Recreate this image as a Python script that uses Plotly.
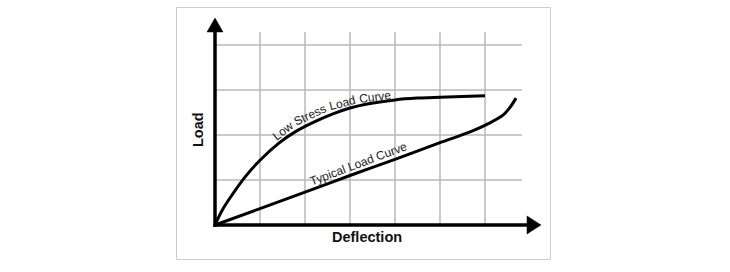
import plotly.graph_objects as go

# ---- data (arbitrary units: 1 = one grid cell) ----
low_x = [0, 0.16, 0.38, 0.67, 1.0, 1.42, 1.78, 2.16, 2.62, 3.0, 3.38, 4.0, 4.49, 5.0, 6.0]
low_y = [0, 0.33, 0.67, 1.07, 1.44, 1.82, 2.07, 2.27, 2.47, 2.60, 2.69, 2.78, 2.82, 2.84, 2.87]

typ_x = [0, 1, 2, 3, 4, 5, 5.67, 6.11, 6.4, 6.56, 6.69]
typ_y = [0, 0.365, 0.73, 1.10, 1.46, 1.83, 2.07, 2.27, 2.44, 2.62, 2.82]

grid_x = [1, 2, 3, 4, 5, 6]
grid_y = [1, 2, 3, 4]
grid_x_end = 6.82
grid_y_end = 4.29

x_label = "Deflection"
y_label = "Load"
low_label_words = ["Low", "Stress", "Load", "Curve"]
typ_label = "Typical Load Curve"

# ---- figure geometry: 45 px per unit, origin at pixel (215, 225) ----
PX = 45.0
OX, OY = 215.0, 225.0
W, H = 730, 272
def dx(px):
    return (px - OX) / PX
def dy(py):
    return (OY - py) / PX

# label placement (pixel centres and angles)
low_label_pos = [(dx(283), dy(131), -38), (dx(310), dy(115), -25),
                 (dx(342.5), dy(103), -15), (dx(375), dy(96.5), -7)]

fig = go.Figure()

shapes = []
gcol = "#b9b9b9"
for gx in grid_x:
    shapes.append(dict(type="line", x0=gx, x1=gx, y0=0, y1=grid_y_end,
                       line=dict(color=gcol, width=1.5), layer="below"))
for gy in grid_y:
    shapes.append(dict(type="line", x0=0, x1=grid_x_end, y0=gy, y1=gy,
                       line=dict(color=gcol, width=1.5), layer="below"))

# outer frame
shapes.append(dict(type="rect", x0=dx(176.5), x1=dx(550.5), y0=dy(259.5), y1=dy(7.5),
                   line=dict(color="#cccccc", width=1), layer="below"))

# axes lines
y_tip, y_base, y_half = dy(18), dy(32), 8 / PX
x_tip, x_base, x_half = dx(541), dx(527), 9 / PX
shapes.append(dict(type="line", x0=0, x1=0, y0=dy(227), y1=y_base + 0.05,
                   line=dict(color="black", width=3.5)))
shapes.append(dict(type="line", x0=dx(213.5), x1=x_base + 0.05, y0=0, y1=0,
                   line=dict(color="black", width=3.5)))
shapes.append(dict(type="path",
                   path=f"M {-y_half},{y_base} L {y_half},{y_base} L 0,{y_tip} Z",
                   fillcolor="black", line=dict(color="black", width=0.5)))
shapes.append(dict(type="path",
                   path=f"M {x_base},{-x_half} L {x_base},{x_half} L {x_tip},0 Z",
                   fillcolor="black", line=dict(color="black", width=0.5)))

fig.add_trace(go.Scatter(x=low_x, y=low_y, mode="lines",
                         line=dict(color="black", width=3, shape="spline", smoothing=1.0),
                         hoverinfo="skip", showlegend=False))
fig.add_trace(go.Scatter(x=typ_x, y=typ_y, mode="lines",
                         line=dict(color="black", width=3, shape="spline", smoothing=0.8),
                         hoverinfo="skip", showlegend=False))

font_txt = dict(family="Liberation Sans, Arial, sans-serif", size=12, color="#222222")
annotations = []
for word, (ax_, ay_, ang) in zip(low_label_words, low_label_pos):
    annotations.append(dict(x=ax_, y=ay_, text=word, showarrow=False,
                            textangle=ang, font=font_txt, xanchor="center", yanchor="middle"))
annotations.append(dict(x=dx(358), y=dy(164), text=typ_label, showarrow=False,
                        textangle=-20.5, font=font_txt, xanchor="center", yanchor="middle"))
font_lab = dict(family="Liberation Sans, Arial, sans-serif", size=14.5, color="#111111")
annotations.append(dict(x=dx(367), y=dy(237), text=f"<b>{x_label}</b>", showarrow=False,
                        font=font_lab, xanchor="center", yanchor="middle"))
annotations.append(dict(x=dx(198), y=dy(130), text=f"<b>{y_label}</b>", showarrow=False,
                        textangle=-90, font=font_lab, xanchor="center", yanchor="middle"))

fig.update_layout(
    width=W, height=H, autosize=False,
    margin=dict(l=0, r=0, t=0, b=0),
    paper_bgcolor="white", plot_bgcolor="white",
    xaxis=dict(range=[dx(0), dx(W)], visible=False, fixedrange=True),
    yaxis=dict(range=[dy(H), dy(0)], visible=False, fixedrange=True),
    shapes=shapes, annotations=annotations,
)

fig.write_html("out.html", config={"displayModeBar": False})
